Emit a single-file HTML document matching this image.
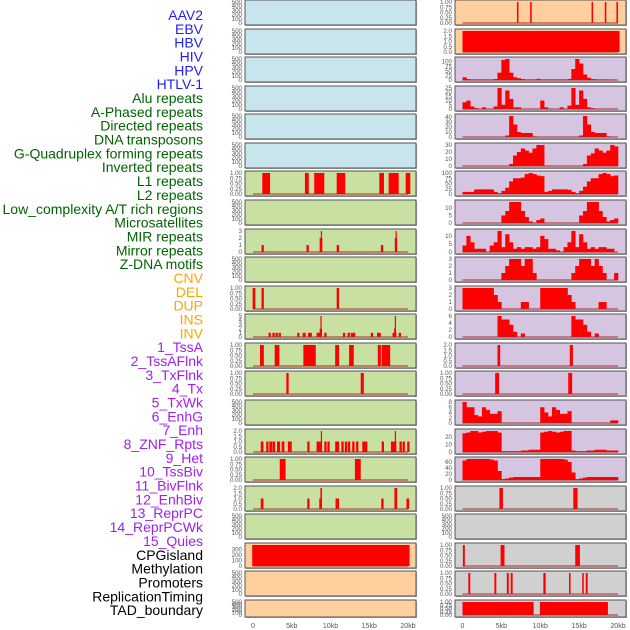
<!DOCTYPE html>
<html><head><meta charset="utf-8"><style>
html,body{margin:0;padding:0;background:#fff;width:630px;height:630px;overflow:hidden}
svg{display:block;font-family:"Liberation Sans",sans-serif}
</style></head><body>
<svg id="c" width="630" height="630" viewBox="0 0 630 630"></svg>
<script>
// ---------- labels ----------
const labelTexts = ["AAV2","EBV","HBV","HIV","HPV","HTLV-1","Alu repeats","A-Phased repeats","Directed repeats","DNA transposons","G-Quadruplex forming repeats","Inverted repeats","L1 repeats","L2 repeats","Low_complexity A/T rich regions","Microsatellites","MIR repeats","Mirror repeats","Z-DNA motifs","CNV","DEL","DUP","INS","INV","1_TssA","2_TssAFlnk","3_TxFlnk","4_Tx","5_TxWk","6_EnhG","7_Enh","8_ZNF_Rpts","9_Het","10_TssBiv","11_BivFlnk","12_EnhBiv","13_ReprPC","14_ReprPCWk","15_Quies","CPGisland","Methylation","Promoters","ReplicationTiming","TAD_boundary"];
const labelGroups = [6,13,5,15,5];
const groupColors = ["#1f1fee","#006400","#ffa500","#a020f0","#000000"];
const xTickKb = [0,5,10,15,20];
const xTickLabels = ["0","5kb","10kb","15kb","20kb"];

// ---------- left column tracks: segments [startKb,endKb,value] ----------
const L6 = [[1.2,2.2,1],[6.7,7.2,1],[7.9,9.2,1],[10.8,11.9,1],[16.3,16.9,1],[17.5,18.8,1],[19.7,20.3,1]];
const L8 = [[1.1,1.4,1],[6.9,7.2,1],[8.6,8.95,2],[8.75,8.9,3],[10.8,11.1,1],[16.5,16.8,1],[18.3,18.6,2],[18.4,18.55,3]];
const L10 = [[-0.05,0.3,1],[1.1,1.4,1],[10.8,11.1,1]];
const L11 = [[2.0,2.3,1],[2.5,2.8,1],[2.9,3.2,1],[3.3,3.6,1],[5.7,6.0,1],[6.4,6.8,1],[7.1,7.6,1],[8.2,8.9,1],[8.6,8.9,2],[8.7,8.85,5],[9.2,9.5,1],[11.6,11.9,1],[12.2,12.5,1],[12.6,12.9,1],[12.9,13.2,1],[15.2,15.5,1],[16.0,16.5,1],[18.0,18.5,1],[18.2,18.45,2],[18.3,18.45,5],[18.8,19.1,1]];
const L12 = [[0.9,1.4,1],[2.8,3.4,1],[6.5,8.1,1],[10.6,11.1,1],[12.4,13.0,1],[16.1,16.5,1],[16.6,17.7,1]];
const L13 = [[4.3,4.6,1],[13.9,14.3,1]];
const L15 = [[1.0,1.35,1],[1.7,2.0,1],[2.1,2.45,1],[2.5,2.85,1],[3.1,3.5,1],[3.7,4.05,1],[4.5,5.0,1],[7.0,7.3,1],[8.2,8.9,1],[8.75,8.9,2],[9.2,9.5,1],[9.6,9.9,1],[10.6,11.1,1],[11.4,11.7,1],[11.85,12.15,1],[12.25,12.55,1],[12.8,13.1,1],[13.3,13.6,1],[14.1,14.75,1],[16.6,16.9,1],[17.8,18.5,1],[18.3,18.45,2],[18.9,19.2,1],[19.3,19.6,1],[19.9,20.2,1]];
const L16 = [[3.45,4.2,1],[13.15,13.9,1]];
const L17 = [[1.0,1.35,1],[7.0,7.3,1],[8.55,8.9,1],[8.7,8.9,2],[10.65,11.1,1],[16.55,16.85,1],[18.25,18.6,2],[19.8,20.15,1]];
const L19 = [[-0.1,20.2,383]];

// ---------- right column tracks ----------
const R0 = [[7.0,7.2,1],[8.7,8.9,1],[16.6,16.8,1],[18.3,18.5,1],[19.8,20.0,1]];
const R1 = [[0,20.2,2]];
// 0.5kb bins, 40 bins
const R2 = [15,5,2,2,2,2,2,2,5,40,110,115,40,15,10,5,2,2,2,6,2,2,2,2,2,2,2,6,60,115,90,30,12,5,3,2,2,2,2,0];
const R3 = [8,10,3,1,0,2,0,0,3,25,5,22,12,2,2,0,0,0,0,0,10,2,0,0,0,2,0,4,25,5,22,12,2,1,0,0,0,0,0,0];
const R4 = [0,0,0,0,0,0,0,0,0,0,0,3,42,25,10,8,8,8,1,0,0,0,0,0,0,0,0,0,0,0,3,42,25,10,8,8,8,1,0,0];
const R5 = [0,0,0,0,0,0,0,0,0,0,0,0,3,15,20,25,22,19,25,30,30,0,0,0,0,0,0,0,0,0,0,3,15,18,25,22,19,22,30,28];
const R6 = [10,10,10,22,22,22,22,22,10,3,15,30,60,75,75,78,95,100,95,88,85,10,15,22,22,22,22,20,10,3,15,35,60,75,75,95,100,95,85,88];
const R7 = [0,0,0,0,0,0,0,0,0,0,5,8,14,14,14,8,4,1,0,2,3,0,0,0,0,0,0,0,0,0,5,8,14,14,14,8,4,1,2,3];
const R8 = [4,10,6,2,2,2,0,4,6,13,3,11,6,2,3,2,3,3,2,3,10,8,2,2,1,0,3,6,13,3,11,6,2,3,2,3,3,2,2,0];
const R9 = [0,0,0,0,0,0,0,0,0,0,1,2,3,3,3,2,3,3,1,0,0,0,0,0,0,0,0,0,1,2,3,3,3,2,3,2,1,0,0,1];
const R10 = [3,3,3,3,3,3,3,3,2,1,0,0,0,0,0,1,1,0,0,0,3,3,3,3,3,3,3,2,1,0,0,0,0,0,0,1,1,0,0,0];
const R11 = [0,0,0,0,0,0,0,0,0,6,5,5,3.5,1.5,0,1,0,0,0,0,0,0,0,0,0,0,0,0,6,5,5,3.5,1.5,0,1,0,0,0,0,0];
const R12 = [[4.5,4.85,2],[13.8,14.2,2]];
const R13 = [[4.2,4.7,1],[13.6,14.1,1]];
const R14 = [8,6,6,3,2.5,6,5,3.5,3.5,4.5,0,0,0,0,0,0,0,0,0,0,6,4,2.5,6,5,3.5,3.5,4.5,0,0,0,0,0,0,0,0,0,0,1,1];
const R15 = [25,26,28,28,26,27,28,28,28,26,1,1,1,1,1,2,2,3,3,3,26,27,28,27,26,27,28,28,2,1,1,1,2,2,3,3,3,2,2,2];
const R16 = [65,70,70,70,70,70,70,68,65,30,3,5,8,10,10,10,10,10,10,10,70,70,70,70,70,70,68,60,25,3,5,8,10,10,10,10,10,10,10,10];
const R17 = [[4.75,5.2,1],[14.25,14.8,1]];
const R19 = [[0.05,0.3,1],[4.9,5.4,1],[14.5,15.1,1]];
const R20 = [[0.75,1.0,1],[4.1,4.35,1],[5.7,5.95,1],[6.2,6.45,1],[10.4,10.7,1],[13.7,13.9,1],[15.4,15.6,1],[15.85,16.1,1]];
const R21 = [[0,9.15,1],[9.95,18.7,1]];

// tick sets
const T500 = [0,100,200,300,400,500];
const T1 = [0,0.25,0.5,0.75,1];
const T2 = [0,0.5,1,1.5,2];
const T3 = [0,1,2,3];

const NS = "http://www.w3.org/2000/svg";
const svg = document.getElementById("c");
function mk(tag, attrs, parent){const e=document.createElementNS(NS,tag);for(const k in attrs)e.setAttribute(k,attrs[k]);(parent||svg).appendChild(e);return e;}

const rowTop = i => Math.round(i*28.57);
const rowH = i => i===21 ? 17 : 25;
const colX = [245,455];
const xS = (col,kb) => col===0 ? 253+kb*7.75 : 462.5+kb*7.775;
const yS = (row,v,ymax) => rowTop(row)+rowH(row)-2 - v/ymax*(rowH(row)-4);

const leftBg = i => i<6 ? "#c8e4ec" : (i<19 ? "#c8e0a2" : "#ffd09e");
const rightBg = i => i<2 ? "#ffd09e" : (i<17 ? "#d5c5e1" : "#d0d0d0");

const leftTracks = [null,null,null,null,null,null,{seg:L6,t:T1,f:2},null,{seg:L8,t:T3,f:0},null,{seg:L10,t:T1,f:2},{seg:L11,t:[0,1,2,3,4,5],f:0},{seg:L12,t:T1,f:2},{seg:L13,t:T1,f:2},null,{seg:L15,t:T2,f:1},{seg:L16,t:T1,f:2},{seg:L17,t:T2,f:1},null,{seg:L19,t:[0,100,200,300],f:0,max:383},null,null];
const rightTracks = [{seg:R0,t:T1,f:2},{seg:R1,t:T2,f:1},{bin:R2,t:[0,25,50,75,100],f:0},{bin:R3,t:[0,5,10,15,20,25],f:0},{bin:R4,t:[0,10,20,30,40],f:0},{bin:R5,t:[0,10,20,30],f:0},{bin:R6,t:[0,25,50,75,100],f:0},{bin:R7,t:[0,5,10],f:0},{bin:R8,t:[0,5,10],f:0},{bin:R9,t:T3,f:0},{bin:R10,t:T3,f:0},{bin:R11,t:[0,2,4,6],f:0},{seg:R12,t:T2,f:1},{seg:R13,t:T1,f:2},{bin:R14,t:[0,2,4,6,8],f:0},{bin:R15,t:[0,10,20],f:0},{bin:R16,t:[0,20,40,60],f:0},{seg:R17,t:T1,f:2},null,{seg:R19,t:T1,f:2},{seg:R20,t:T1,f:2},{seg:R21,t:T1,f:2}];

function drawPanel(col,row,tr){
  const g = mk("g",{});
  
  
  const x0=colX[col], t=rowTop(row), h=rowH(row);
  mk("rect",{x:x0+1,y:t+1,width:171,height:h,fill:"#aaa"},g);
  mk("rect",{x:x0,y:t,width:171,height:h,fill:col===0?leftBg(row):rightBg(row),stroke:"#555","stroke-width":1},g);
  let ticks=T500, f=0, ymax=500;
  if(tr){
    ticks=tr.t; f=tr.f;
    let mx=0;
    if(tr.seg) tr.seg.forEach(s=>{if(s[2]>mx)mx=s[2];});
    else tr.bin.forEach(v=>{if(v>mx)mx=v;});
    ymax = tr.max || mx;
    if(tr.seg){
      tr.seg.forEach(s=>{
        const xa=Math.max(x0+1,xS(col,s[0])), xb=Math.min(x0+170,xS(col,s[1]));
        const ya=yS(row,s[2],ymax), yb=yS(row,0,ymax);
        const r=mk("rect",{x:xa,y:ya,width:Math.max(1.2,xb-xa),height:yb-ya,fill:"#ff0000"},g);
        
        
      });
    } else {
      tr.bin.forEach((v,i)=>{
        if(v<=0) return;
        const xa=xS(col,i*0.5), xb=xS(col,(i+1)*0.5);
        const ya=yS(row,v,ymax), yb=yS(row,0,ymax);
        const r=mk("rect",{x:xa,y:ya,width:xb-xa+0.3,height:yb-ya,fill:"#ff0000"},g);
        
        
      });
    }
    const yb=yS(row,0,ymax);
    mk("rect",{x:xS(col,0),y:yb-0.8,width:xS(col,20)-xS(col,0),height:1.6,fill:"#b02020",opacity:0.6},g);
  }
  ticks.forEach(v=>{
    const y=yS(row,v,ymax);
    const tx=mk("text",{x:x0-3,y:y+2,"text-anchor":"end","font-size":"6.2",fill:"#555"},g);
    tx.textContent = v.toFixed(f);
    
    
  });
}
for(let r=0;r<22;r++){drawPanel(0,r,leftTracks[r]);drawPanel(1,r,rightTracks[r]);}

// x axes
[0,1].forEach(col=>{
  xTickKb.forEach((kb,i)=>{
    const tx=mk("text",{x:xS(col,kb),y:628,"text-anchor":"middle","font-size":"7",fill:"#555"});
    tx.textContent=xTickLabels[i];
    
    
  });
});

// labels
let gi=0, cnt=0;
labelTexts.forEach((s,i)=>{
  if(cnt>=labelGroups[gi]){gi++;cnt=0;}
  cnt++;
  const tx=mk("text",{x:203,y:15+i*13.84+5,"text-anchor":"end","font-size":"14",fill:groupColors[gi]});
  tx.textContent=s;
  
  
});
</script>
</body></html>
